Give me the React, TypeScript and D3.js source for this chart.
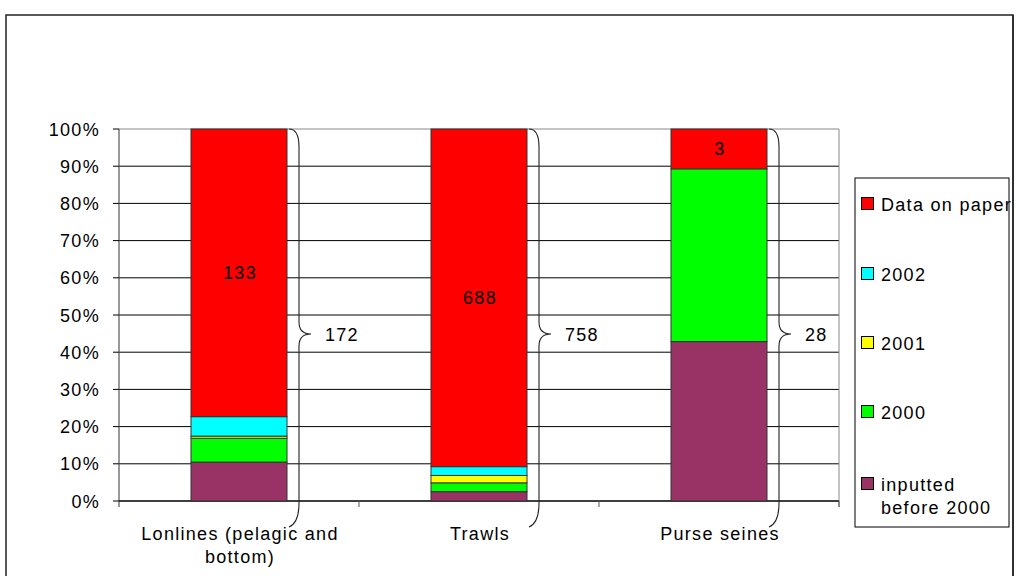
import React from "react";
import * as d3 from "d3";

const categories = ["Lonlines (pelagic and bottom)", "Trawls", "Purse seines"];
const categoryLines = [["Lonlines (pelagic and", "bottom)"], ["Trawls"], ["Purse seines"]];
const seriesNames = ["inputted before 2000", "2000", "2001", "2002", "Data on paper"];
const seriesColors = ["#993366", "#00FF00", "#FFFF00", "#00FFFF", "#FF0000"];
// counts per category, in series order
const inputtedBefore2000 = [18, 19, 12];
const year2000 = [11, 18, 13];
const year2001 = [1, 15, 0];
const year2002 = [9, 18, 0];
const dataOnPaper = [133, 688, 3];
const totals = [172, 758, 28];
const yTicks = [0, 0.1, 0.2, 0.3, 0.4, 0.5, 0.6, 0.7, 0.8, 0.9, 1];

const FONT = "'Liberation Sans', Arial, sans-serif";

export default function App() {
  const left = 119, right = 839, top = 129, bottom = 501;
  const x = d3.scaleBand<string>().domain(categories).range([left, right]).paddingInner(0.6).paddingOuter(0.3);
  const y = d3.scaleLinear().domain([0, 1]).range([bottom, top]);
  const rows = categories.map((c, i) => ({
    cat: c,
    s0: inputtedBefore2000[i],
    s1: year2000[i],
    s2: year2001[i],
    s3: year2002[i],
    s4: dataOnPaper[i],
  }));
  const stack = d3.stack<any>().keys(["s0", "s1", "s2", "s3", "s4"]).offset(d3.stackOffsetExpand);
  const layers = stack(rows);
  const step = (right - left) / categories.length;
  const fmt = d3.format(".0%");
  const textStyle: React.CSSProperties = { fontFamily: FONT, fontSize: 18, letterSpacing: 1.3 };

  const legendY = [484, 412, 343, 274, 204];

  return (
    <svg width={1018} height={576} style={{ position: "absolute", left: 0, top: 0, background: "#fff" }}>
      <rect x={0} y={0} width={1018} height={576} fill="#fff" />
      {/* outer frame */}
      <path d={`M6,580 L6,15 L1013,15 L1013,580`} fill="none" stroke="#222" strokeWidth={1.5} />
      {/* gridlines */}
      {yTicks.map((t) => (
        <line key={t} x1={left} x2={right} y1={y(t)} y2={y(t)} stroke={t === 1 ? "#888" : "#000"} strokeWidth={1} />
      ))}
      {/* plot area right border */}
      <line x1={right} x2={right} y1={top} y2={bottom + 6} stroke="#888" strokeWidth={1} />
      {/* y axis */}
      <line x1={left} x2={left} y1={top} y2={bottom + 6} stroke="#555" strokeWidth={1.2} />
      {yTicks.map((t) => (
        <g key={"yt" + t}>
          <line x1={left - 6} x2={left} y1={y(t)} y2={y(t)} stroke="#000" />
          <text x={100} y={y(t) + 6.5} textAnchor="end" style={textStyle} fill="#000">
            {fmt(t)}
          </text>
        </g>
      ))}
      {/* x axis */}
      <line x1={left} x2={right} y1={bottom} y2={bottom} stroke="#000" strokeWidth={1.2} />
      {categories.map((c, i) => (
        <line key={"xt" + i} x1={left + step * (i + 1)} x2={left + step * (i + 1)} y1={bottom} y2={bottom + 6} stroke="#555" />
      ))}
      {/* bars */}
      {layers.map((layer, li) => (
        <g key={li}>
          {layer.map((d, i) => {
            const h = y(d[0]) - y(d[1]);
            if (h <= 0) return null;
            return (
              <rect
                key={i}
                x={x(categories[i])!}
                width={x.bandwidth()}
                y={y(d[1])}
                height={h}
                fill={seriesColors[li]}
                stroke="#333"
                strokeWidth={1}
              />
            );
          })}
        </g>
      ))}
      {/* data labels on paper */}
      {layers[4].map((d, i) => (
        <text
          key={"dl" + i}
          x={x(categories[i])! + x.bandwidth() / 2 + 1}
          y={(y(d[0]) + y(d[1])) / 2 + 6.5}
          textAnchor="middle"
          style={textStyle}
          fill="#000"
        >
          {dataOnPaper[i]}
        </text>
      ))}
      {/* braces with totals */}
      {categories.map((c, i) => {
        const xr = x(c)! + x.bandwidth();
        const t0 = top;
        const b0 = 527;
        const tip = 334;
        const v = xr + 12;
        const d = `M${xr + 2},${t0} Q${v},${t0} ${v},${t0 + 18} L${v},${tip - 12} Q${v},${tip} ${xr + 24},${tip} Q${v},${tip} ${v},${tip + 12} L${v},${b0 - 24} Q${v},${b0 - 4} ${xr + 2},${b0}`;
        return (
          <g key={"br" + i}>
            <path d={d} fill="none" stroke="#222" strokeWidth={1.1} />
            <text x={xr + 38} y={tip + 6.5} style={textStyle} fill="#000">
              {totals[i]}
            </text>
          </g>
        );
      })}
      {/* category labels */}
      {categoryLines.map((lines, i) => (
        <text key={"cl" + i} textAnchor="middle" style={textStyle} fill="#000">
          {lines.map((ln, j) => (
            <tspan key={j} x={x(categories[i])! + x.bandwidth() / 2 + 1} y={540 + j * 23}>
              {ln}
            </tspan>
          ))}
        </text>
      ))}
      {/* legend */}
      <rect x={855} y={178} width={154} height={349} fill="#fff" stroke="#000" strokeWidth={1} />
      {seriesNames.map((s, i) => {
        const cy = legendY[i];
        const lines = i === 0 ? ["inputted", "before 2000"] : [s];
        return (
          <g key={"lg" + i}>
            <rect x={861.5} y={cy - 6.5} width={12} height={12} fill={seriesColors[i]} stroke="#000" strokeWidth={1} />
            <text style={textStyle} fill="#000">
              {lines.map((ln, j) => (
                <tspan key={j} x={881} y={cy + 6.5 + j * 23}>
                  {ln}
                </tspan>
              ))}
            </text>
          </g>
        );
      })}
      {/* frame right edge redrawn over legend text */}
      <line x1={1013} x2={1013} y1={15} y2={580} stroke="#222" strokeWidth={1.5} />
    </svg>
  );
}
